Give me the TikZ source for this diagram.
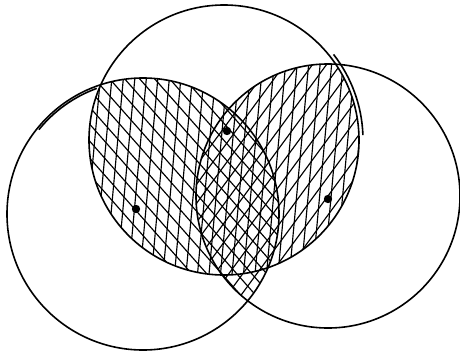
\documentclass[tikz,border=0pt]{standalone}
\begin{document}
\begin{tikzpicture}[x=1pt,y=-1pt,
  rim/.style={line width=1.6pt},
  hatch/.style={line width=1.15pt},
  centredot/.style={fill=black}]
\useasboundingbox (0,0) rectangle (460,351);
\coordinate (T) at (224,140);
\coordinate (L) at (143,214);
\coordinate (R) at (328,196);
\def\rT{135}\def\rL{136}\def\rR{132}
% T hatching (near vertical) where T meets L or R
\begin{scope}
  \clip (T) circle[radius=\rT];
  \clip (L) circle[radius=\rL] (R) circle[radius=\rR];
  \foreach \k in {50,61.5,...,420} \draw[hatch] (\k,0) -- (\k-32,351);
\end{scope}
% L hatching (down-right) where L meets T or R
\begin{scope}
  \clip (L) circle[radius=\rL];
  \clip (T) circle[radius=\rT] (R) circle[radius=\rR];
  \foreach \k in {-320,-305,...,320} \draw[hatch] (\k,0) -- (\k+310,351);
\end{scope}
% R hatching (up-right) where R meets T or L
\begin{scope}
  \clip (R) circle[radius=\rR];
  \clip (T) circle[radius=\rT] (L) circle[radius=\rL];
  \foreach \k in {-80,-66,...,470} \draw[hatch] (\k,351) -- (\k+258,0);
\end{scope}
% circles
\draw[rim] (T) circle[radius=\rT];
\draw[rim] (L) circle[radius=\rL];
\draw[rim] (R) circle[radius=\rR];
% extra hand strokes
\draw[rim] (L) ++(219:134) arc[start angle=219, end angle=250, radius=133];
\draw[rim] (T) ++(-38:139) arc[start angle=-38, end angle=-2, radius=139];
% centre dots
\fill[centredot] (136,209) circle[radius=4.2];
\fill[centredot] (227,131) circle[radius=4.2];
\fill[centredot] (328,199) circle[radius=4.2];
\end{tikzpicture}
\end{document}
